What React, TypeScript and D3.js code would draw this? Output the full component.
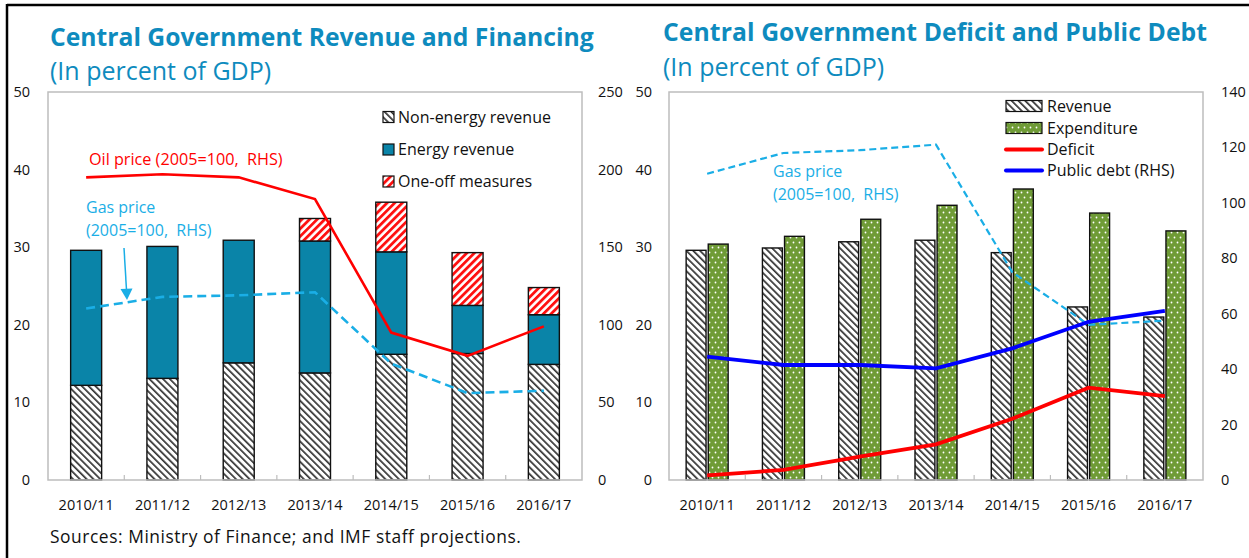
import React from 'react';
import * as d3 from 'd3';

const years = ['2010/11', '2011/12', '2012/13', '2013/14', '2014/15', '2015/16', '2016/17'];
// Left panel (percent of GDP, LHS)
const nonEnergyRevenue = [12.2, 13.1, 15.1, 13.8, 16.2, 16.3, 14.9];
const energyRevenue = [17.4, 17.0, 15.8, 17.0, 13.2, 6.2, 6.4];
const oneOffMeasures = [0, 0, 0, 2.9, 6.4, 6.8, 3.5];
// Prices (2005=100, RHS)
const oilPrice = [195, 197, 195, 181, 95, 80, 99];
const gasPrice = [110.5, 118, 119, 121, 75, 56, 57.5];
// Right panel
const revenue = [29.6, 29.9, 30.7, 30.9, 29.3, 22.3, 21.0];
const expenditure = [30.4, 31.4, 33.6, 35.4, 37.5, 34.4, 32.1];
const deficit = [0.6, 1.3, 3.0, 4.6, 7.9, 11.9, 10.8];
const publicDebt = [44.5, 41.5, 41.5, 40.3, 47.5, 57.1, 61.0];

const lhsTicks = [0, 10, 20, 30, 40, 50];
const leftRhsTicks = [0, 50, 100, 150, 200, 250];
const rightRhsTicks = [0, 20, 40, 60, 80, 100, 120, 140];

const FONT = "'Open Sans', 'Noto Sans', sans-serif";
const TITLE = '#0E8BBE';
const GAS = '#1AAEE6';
const ENERGY = '#0A84A8';
const GREEN = '#6F9B36';

const TOP = 92;
const BOTTOM = 480;
const PRE: any = { whiteSpace: 'pre' };

function Defs() {
  return (
    <defs>
      <pattern id="hatchBlack" patternUnits="userSpaceOnUse" width="4.8" height="4.8" patternTransform="rotate(-45)">
        <rect width="4.8" height="4.8" fill="#fff" />
        <rect width="1.7" height="4.8" fill="#333" />
      </pattern>
      <pattern id="hatchRed" patternUnits="userSpaceOnUse" width="5.4" height="5.4" patternTransform="rotate(45)">
        <rect width="5.4" height="5.4" fill="#fff" />
        <rect width="2.8" height="5.4" fill="#FF1010" />
      </pattern>
      <pattern id="dots" patternUnits="userSpaceOnUse" width="6" height="10">
        <rect width="6" height="10" fill={GREEN} />
        <circle cx="1.5" cy="2.5" r="0.9" fill="#fff" />
        <circle cx="4.5" cy="7.5" r="0.9" fill="#fff" />
      </pattern>
    </defs>
  );
}

function Frame({ x0, x1, x }: any) {
  return (
    <g>
      <rect x={x0} y={TOP} width={x1 - x0} height={BOTTOM - TOP} fill="none" stroke="#BDBDBD" strokeWidth={1.5} />
      {years.slice(1).map((c: string) => {
        const xx = x(c);
        return <line key={c} x1={xx} x2={xx} y1={BOTTOM} y2={BOTTOM - 5} stroke="#BDBDBD" strokeWidth={1.2} />;
      })}
      {years.map((c: string) => (
        <text key={c} x={(x(c) as number) + x.bandwidth() / 2} y={510} textAnchor="middle" fontSize={14.5} fontFamily={FONT} fill="#111">
          {c}
        </text>
      ))}
    </g>
  );
}

function LeftPanel() {
  const x0 = 48, x1 = 582;
  const x = d3.scaleBand().domain(years).range([x0, x1]);
  const y = d3.scaleLinear().domain([0, 50]).range([BOTTOM, TOP]);
  const yr = d3.scaleLinear().domain([0, 250]).range([BOTTOM, TOP]);
  const bw = 31;
  const cx = (i: number) => (x(years[i]) as number) + x.bandwidth() / 2;
  const rows = years.map((c, i) => ({ c, nonEnergy: nonEnergyRevenue[i], energy: energyRevenue[i], oneOff: oneOffMeasures[i] }));
  const keys = ['nonEnergy', 'energy', 'oneOff'];
  const fills: any = { nonEnergy: 'url(#hatchBlack)', energy: ENERGY, oneOff: 'url(#hatchRed)' };
  const stack = d3.stack<any>().keys(keys)(rows);
  const line = d3.line<number>().x((_, i) => cx(i)).y((d) => yr(d));
  return (
    <g>
      {stack.map((s) => (
        <g key={s.key}>
          {s.map((d, i) =>
            d[1] - d[0] > 0 ? (
              <rect key={i} x={cx(i) - bw / 2} y={y(d[1])} width={bw} height={y(d[0]) - y(d[1])} fill={fills[s.key]} stroke="#111" strokeWidth={1.4} />
            ) : null
          )}
        </g>
      ))}
      <Frame x0={x0} x1={x1} x={x} />
      <path d={line(gasPrice) || ''} fill="none" stroke={GAS} strokeWidth={2.6} strokeDasharray="9 5" />
      <path d={line(oilPrice) || ''} fill="none" stroke="#FF0000" strokeWidth={2.6} />
      {lhsTicks.map((t) => (
        <text key={t} x={30} y={y(t) + 5} textAnchor="end" fontSize={14.5} fontFamily={FONT} fill="#111">{t}</text>
      ))}
      {leftRhsTicks.map((t) => (
        <text key={t} x={598} y={yr(t) + 5} textAnchor="start" fontSize={14.5} fontFamily={FONT} fill="#111">{t}</text>
      ))}
      <text x={89} y={165} fontSize={16.2} fontFamily={FONT} fill="#FF0000" style={PRE}>{'Oil price (2005=100,  RHS)'}</text>
      <text x={86} y={213} fontSize={16} fontFamily={FONT} fill={GAS}>Gas price</text>
      <text x={86} y={235.5} fontSize={16} fontFamily={FONT} fill={GAS} style={PRE}>{'(2005=100,  RHS)'}</text>
      <line x1={124} y1={248} x2={126.5} y2={290} stroke={GAS} strokeWidth={1.5} />
      <path d="M120.5,289 L132.5,288.5 L127,300 Z" fill={GAS} />
      {/* legend */}
      {[
        ['Non-energy revenue', 'url(#hatchBlack)', 117],
        ['Energy revenue', ENERGY, 149.5],
        ['One-off measures', 'url(#hatchRed)', 181.5],
      ].map(([label, fill, cy]: any) => (
        <g key={label}>
          <rect x={383} y={cy - 5.5} width={11} height={11} fill={fill} stroke="#111" strokeWidth={1.2} />
          <text x={398} y={cy + 5.5} fontSize={16} fontFamily={FONT} fill="#111">{label}</text>
        </g>
      ))}
    </g>
  );
}

function RightPanel() {
  const x0 = 669, x1 = 1203;
  const x = d3.scaleBand().domain(years).range([x0, x1]);
  const y = d3.scaleLinear().domain([0, 50]).range([BOTTOM, TOP]);
  const yr = d3.scaleLinear().domain([0, 140]).range([BOTTOM, TOP]);
  const inner = d3.scaleBand().domain(['revenue', 'expenditure']).range([-21, 21]).paddingInner(0.1);
  const cx = (i: number) => (x(years[i]) as number) + x.bandwidth() / 2;
  const line = (scale: any) => d3.line<number>().x((_, i) => cx(i)).y((d) => scale(d));
  return (
    <g>
      {years.map((c, i) => (
        <g key={c}>
          <rect x={cx(i) + (inner('revenue') as number)} y={y(revenue[i])} width={inner.bandwidth()} height={BOTTOM - y(revenue[i])} fill="url(#hatchBlack)" stroke="#111" strokeWidth={1.4} />
          <rect x={cx(i) + (inner('expenditure') as number)} y={y(expenditure[i])} width={inner.bandwidth()} height={BOTTOM - y(expenditure[i])} fill="url(#dots)" stroke="#111" strokeWidth={1.4} />
        </g>
      ))}
      <Frame x0={x0} x1={x1} x={x} />
      <path d={line(yr)(gasPrice) || ''} fill="none" stroke={GAS} strokeWidth={2.2} strokeDasharray="7 4" />
      <path d={line(y)(deficit) || ''} fill="none" stroke="#FF0000" strokeWidth={3.8} />
      <path d={line(yr)(publicDebt) || ''} fill="none" stroke="#0000FF" strokeWidth={3.8} />
      {lhsTicks.map((t) => (
        <text key={t} x={652} y={y(t) + 5} textAnchor="end" fontSize={14.5} fontFamily={FONT} fill="#111">{t}</text>
      ))}
      {rightRhsTicks.map((t) => (
        <text key={t} x={1221} y={yr(t) + 5} textAnchor="start" fontSize={14.5} fontFamily={FONT} fill="#111">{t}</text>
      ))}
      <text x={773} y={177} fontSize={16} fontFamily={FONT} fill={GAS}>Gas price</text>
      <text x={773} y={199.5} fontSize={16} fontFamily={FONT} fill={GAS} style={PRE}>{'(2005=100,  RHS)'}</text>
      {/* legend */}
      <rect x={1006} y={100.5} width={36} height={11} fill="url(#hatchBlack)" stroke="#111" strokeWidth={1.2} />
      <rect x={1006} y={122.5} width={36} height={11} fill="url(#dots)" stroke="#111" strokeWidth={1.2} />
      <line x1={1006} x2={1042} y1={149.5} y2={149.5} stroke="#FF0000" strokeWidth={4} strokeLinecap="round" />
      <line x1={1006} x2={1042} y1={170.5} y2={170.5} stroke="#0000FF" strokeWidth={4} strokeLinecap="round" />
      {[['Revenue', 106], ['Expenditure', 128], ['Deficit', 149.5], ['Public debt (RHS)', 170.5]].map(([l, cy]: any) => (
        <text key={l} x={1047} y={cy + 5.5} fontSize={16} fontFamily={FONT} fill="#111">{l}</text>
      ))}
    </g>
  );
}

export default function App() {
  return (
    <svg width={1249} height={558} style={{ position: 'absolute', left: 0, top: 0, background: '#fff' }}>
      <Defs />
      <rect width={1249} height={558} fill="#fff" />
      <line x1={7} x2={1249} y1={5} y2={5} stroke="#000" strokeWidth={2.5} />
      <line x1={7} x2={7} y1={4} y2={558} stroke="#000" strokeWidth={2.5} />
      <text x={50} y={46} fontSize={24.7} fontWeight={700} fontFamily={FONT} fill={TITLE}>Central Government Revenue and Financing</text>
      <text x={50} y={80} fontSize={25} fontFamily={FONT} fill={TITLE}>(In percent of GDP)</text>
      <text x={663} y={41} fontSize={24.7} fontWeight={700} fontFamily={FONT} fill={TITLE} letterSpacing={0.1}>Central Government Deficit and Public Debt</text>
      <text x={663} y={76} fontSize={25} fontFamily={FONT} fill={TITLE}>(In percent of GDP)</text>
      <LeftPanel />
      <RightPanel />
      <text x={50} y={543} fontSize={17.4} fontFamily={FONT} fill="#111" letterSpacing={0.55}>Sources: Ministry of Finance; and IMF staff projections.</text>
    </svg>
  );
}
